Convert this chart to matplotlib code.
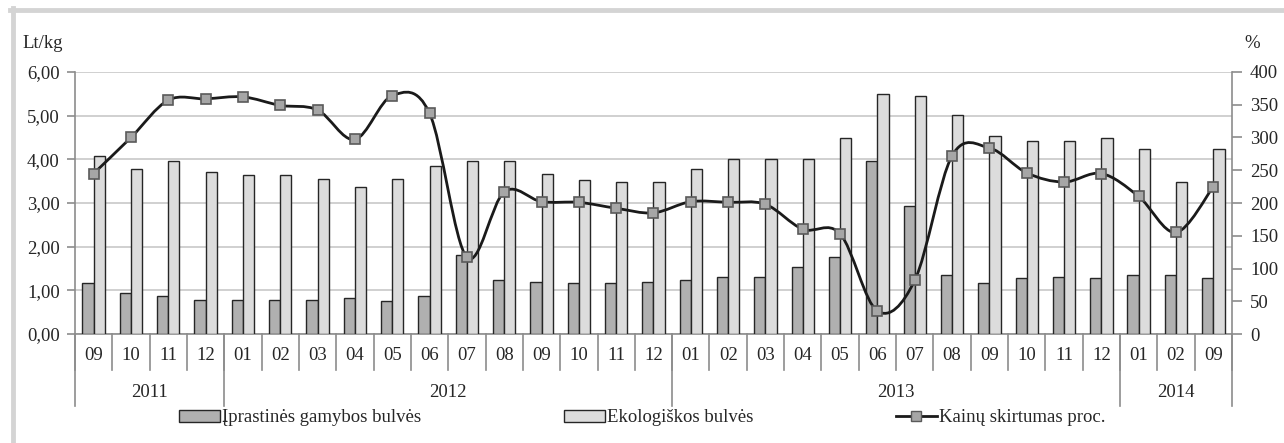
import matplotlib
matplotlib.use('Agg')
import matplotlib.pyplot as plt
import numpy as np
from matplotlib.path import Path
from matplotlib.patches import PathPatch
from matplotlib.lines import Line2D
from matplotlib.patches import Patch
import matplotlib.transforms as mtransforms

months = ['09', '10', '11', '12',
          '01', '02', '03', '04', '05', '06', '07', '08', '09', '10', '11', '12',
          '01', '02', '03', '04', '05', '06', '07', '08', '09', '10', '11', '12',
          '01', '02', '09']
years = ['2011', '2012', '2013', '2014']
year_counts = [4, 12, 12, 3]

conventional = [1.16, 0.93, 0.86, 0.79,
                0.79, 0.79, 0.79, 0.83, 0.75, 0.86, 1.80, 1.24, 1.20, 1.16, 1.16, 1.20,
                1.24, 1.30, 1.30, 1.53, 1.76, 3.97, 2.92, 1.35, 1.16, 1.28, 1.31, 1.28,
                1.35, 1.35, 1.28]
ecological = [4.07, 3.78, 3.97, 3.70,
              3.63, 3.63, 3.55, 3.36, 3.55, 3.85, 3.97, 3.97, 3.66, 3.52, 3.48, 3.48,
              3.78, 4.00, 4.00, 4.00, 4.49, 5.49, 5.45, 5.01, 4.53, 4.42, 4.42, 4.49,
              4.23, 3.48, 4.23]
price_diff = [245, 300, 357, 359,
              362, 349, 342, 297, 364, 337, 117, 217, 202, 201, 192, 185,
              202, 201, 198, 160, 153, 35, 82, 272, 284, 246, 232, 245,
              210, 155, 225]

plt.rcParams['font.family'] = ['Liberation Serif', 'DejaVu Serif']
plt.rcParams['font.size'] = 13.5
txt = '#262626'
axcol = '#8c8c8c'

fig = plt.figure(figsize=(12.84, 4.43), dpi=100)
ax = fig.add_axes([0.0584, 0.246, 0.9011, 0.5915])
ax2 = ax.twinx()

x = np.arange(len(months))
w = 0.3
ax.bar(x - w / 2, conventional, w, color='#b0b0b0', edgecolor='#262626', linewidth=1.0, zorder=3)
ax.bar(x + w / 2, ecological, w, color='#dcdcdc', edgecolor='#262626', linewidth=1.0, zorder=3)

# smooth line (catmull-rom -> bezier, like excel smoothing)
pts = np.column_stack([x, price_diff]).astype(float)
verts = [pts[0]]
codes = [Path.MOVETO]
for i in range(len(pts) - 1):
    p0 = pts[i - 1] if i > 0 else pts[i]
    p1 = pts[i]
    p2 = pts[i + 1]
    p3 = pts[i + 2] if i + 2 < len(pts) else pts[i + 1]
    verts += [p1 + (p2 - p0) / 6, p2 - (p3 - p1) / 6, p2]
    codes += [Path.CURVE4] * 3
ax2.add_patch(PathPatch(Path(verts, codes), facecolor='none', edgecolor='#1a1a1a', linewidth=2.0, zorder=4))
ax2.plot(x, price_diff, linestyle='none', marker='s', markersize=6.5, markerfacecolor='#a6a6a6',
         markeredgecolor='#5a5a5a', markeredgewidth=1.2, zorder=5)

ax.set_xlim(-0.5, len(months) - 0.5)
ax.set_ylim(0, 6)
ax2.set_ylim(0, 400)
ax.set_yticks(np.arange(0, 7, 1))
ax.set_yticklabels(['%d,00' % v for v in range(7)], color=txt)
ax2.set_yticks(np.arange(0, 401, 50))
ax2.set_yticklabels([str(v) for v in range(0, 401, 50)], color=txt)
ax.grid(axis='y', color='#c8c8c8', linewidth=1.2, zorder=0)
ax.set_axisbelow(True)

for a in (ax, ax2):
    a.spines['top'].set_visible(False)
    for s in ('left', 'right', 'bottom'):
        a.spines[s].set_color(axcol)
        a.spines[s].set_linewidth(1.2)
ax.spines['right'].set_visible(False)
ax2.spines['left'].set_visible(False)
ax2.spines['bottom'].set_visible(False)
ax.tick_params(axis='y', length=6, color=axcol, width=1.2, pad=5)
ax2.tick_params(axis='y', length=7, color=axcol, width=1.2, pad=6)

ax.set_xticks(x)
ax.set_xticklabels(months, color=txt)
ax.tick_params(axis='x', length=0, pad=9)

# category separators
trans = mtransforms.blended_transform_factory(ax.transData, ax.transAxes)
for b in np.arange(len(months) + 1) - 0.5:
    ax.plot([b, b], [0, -0.137], transform=trans, color=axcol, linewidth=1.2, clip_on=False)
start = -0.5
for yr, n in zip(years, year_counts):
    ax.plot([start, start], [0, -0.275], transform=trans, color=axcol, linewidth=1.2, clip_on=False)
    ax.text(start + n / 2, -0.225, yr, transform=trans, ha='center', va='center', color=txt)
    start += n
ax.plot([start, start], [0, -0.275], transform=trans, color=axcol, linewidth=1.2, clip_on=False)

fig.text(22 / 1284, 1 - 44 / 443, 'Lt/kg', ha='left', va='center', color=txt)
fig.text(1244 / 1284, 1 - 43 / 443, '%', ha='left', va='center', color=txt)

handles = [Patch(facecolor='#b0b0b0', edgecolor='#262626', linewidth=1.0),
           Patch(facecolor='#dcdcdc', edgecolor='#262626', linewidth=1.0),
           Line2D([], [], color='#1a1a1a', linewidth=2.0, marker='s', markersize=6.5,
                  markerfacecolor='#a6a6a6', markeredgecolor='#5a5a5a')]
labels = ['Įprastinės gamybos bulvės', 'Ekologiškos bulvės', 'Kainų skirtumas proc.']
leg = fig.legend(handles, labels, loc='center', bbox_to_anchor=(0.5, 1 - 418 / 443), ncol=3,
                 frameon=False, handlelength=2.2, handleheight=0.6, handletextpad=0.1,
                 columnspacing=7.6, borderaxespad=0)
for t in leg.get_texts():
    t.set_color(txt)

# light gray frame around the chart (top and left visible)
fig.add_artist(Line2D([10 / 1284, 1], [1 - 10 / 443, 1 - 10 / 443], transform=fig.transFigure,
                      color='#d4d4d4', linewidth=3.5))
fig.add_artist(Line2D([12.5 / 1284, 12.5 / 1284], [0, 1 - 8 / 443], transform=fig.transFigure,
                      color='#d4d4d4', linewidth=3.5))

fig.savefig('out.png', dpi=100)
